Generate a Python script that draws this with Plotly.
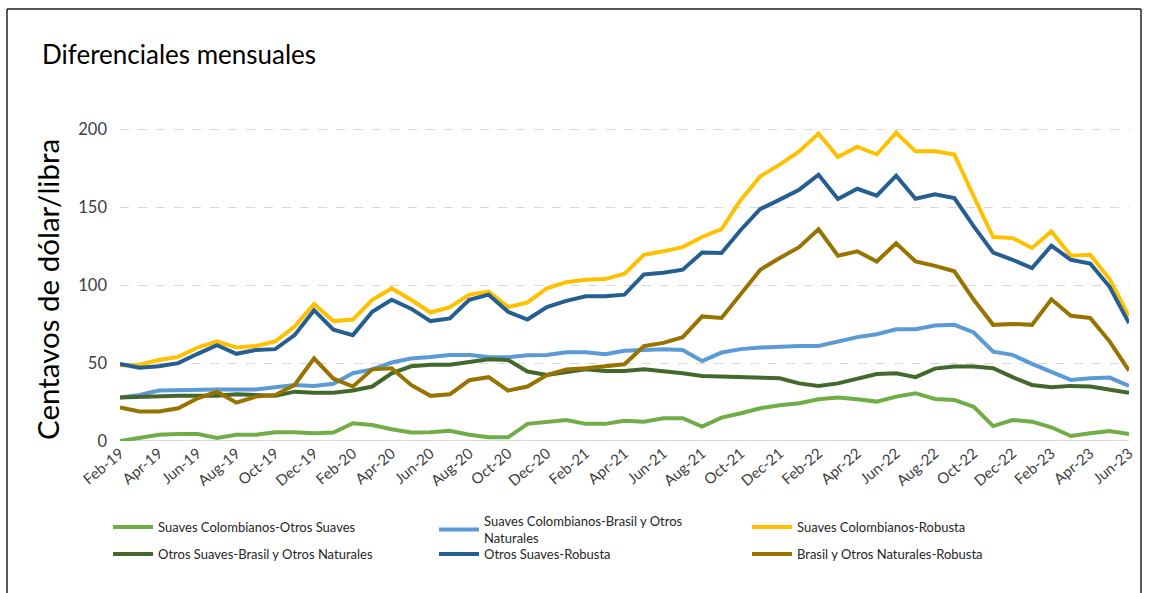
import plotly.graph_objects as go

months = ["Feb-19","Mar-19","Apr-19","May-19","Jun-19","Jul-19","Aug-19","Sep-19","Oct-19","Nov-19",
          "Dec-19","Jan-20","Feb-20","Mar-20","Apr-20","May-20","Jun-20","Jul-20","Aug-20","Sep-20",
          "Oct-20","Nov-20","Dec-20","Jan-21","Feb-21","Mar-21","Apr-21","May-21","Jun-21","Jul-21",
          "Aug-21","Sep-21","Oct-21","Nov-21","Dec-21","Jan-22","Feb-22","Mar-22","Apr-22","May-22",
          "Jun-22","Jul-22","Aug-22","Sep-22","Oct-22","Nov-22","Dec-22","Jan-23","Feb-23","Mar-23",
          "Apr-23","May-23","Jun-23"]

sc_os = [0, 1.7, 4, 4.5, 4.5, 2, 4, 4, 5.6, 5.6,
         5, 5.4, 11.4, 10.3, 7.5, 5.4, 5.6, 6.6, 4, 2.4,
         2.4, 11, 12.4, 13.5, 11, 11, 13, 12.4, 14.6, 14.6,
         9.2, 15, 17.8, 21, 23, 24.2, 26.8, 27.9, 26.8, 25.3,
         28.5, 30.7, 27, 26.4, 22, 9.6, 13.5, 12.4, 8.8, 3.2,
         5, 6.4, 4.5]
sc_br = [28, 29.6, 32.4, 32.8, 32.8, 33, 33, 33, 34.5, 36,
         35.4, 36.7, 43.5, 46, 50.4, 53, 54, 55.3, 55.3, 54,
         53.8, 55, 55.3, 57, 57, 55.7, 58, 58.5, 59, 58.5,
         51.4, 56.8, 59, 60, 60.7, 61, 61, 64, 66.7, 68.6,
         71.8, 71.8, 74.2, 74.6, 69.7, 57.4, 55.3, 49.5, 44.6, 39.2,
         40.3, 40.7, 35.4]
sc_rb = [48.5, 49, 52, 54, 60, 64, 60, 61, 64, 73.5,
         88, 77, 78, 90.7, 98, 90.7, 82.5, 86, 94, 96,
         86, 89, 98, 102, 103.5, 104, 107.4, 119.6, 121.8, 124.5,
         131, 136, 155, 170, 177.5, 186, 197.4, 182.4, 189, 184,
         198, 186, 186, 184, 157, 131, 130.3, 124, 134.6, 119,
         119.6, 104, 80]
os_br = [28, 28.5, 29, 29, 29, 29, 30, 29.6, 29, 31.7,
         31, 31, 32.4, 35, 43.5, 48, 49, 49, 51, 52.5,
         52, 44.6, 42.4, 44, 46, 45, 45, 46, 45, 43.5,
         41.8, 41.4, 41.4, 41, 40.3, 37, 35.4, 37, 39.7, 43,
         43.5, 41, 46.5, 47.8, 47.8, 46.7, 41, 36, 34.5, 35.4,
         35, 33.2, 31]
os_rb = [49.5, 47, 48, 50, 56, 61.5, 56, 58.5, 59, 68,
         84, 71.5, 68, 83, 90.7, 85, 77, 78.7, 90.7, 94,
         83, 78, 86, 90, 93, 93, 94, 107, 108, 110,
         121, 120.7, 135.7, 149, 155, 161.4, 171, 155.4, 162, 157.6,
         170.4, 155.6, 158.5, 156, 137.8, 121, 116.4, 111, 125.4, 116.4,
         114, 99, 75.7]
br_rb = [21.6, 19, 19, 21, 27.4, 31.7, 24.6, 28.5, 29.6, 36,
         53, 40, 35, 46, 46.7, 36, 29, 30, 39, 41,
         32.4, 35, 42.4, 46, 46.7, 47.8, 49.3, 61, 63, 66.7,
         80, 79, 95, 110, 117.5, 124.5, 136, 119, 121.8, 115.3,
         127, 115.3, 112.5, 109, 90.7, 74.6, 75.2, 74.6, 91, 80.4,
         79, 64, 45.2]

series_names = ["Suaves Colombianos-Otros Suaves",
                "Suaves Colombianos-Brasil y Otros<br>Naturales",
                "Suaves Colombianos-Robusta",
                "Otros Suaves-Brasil y Otros Naturales",
                "Otros Suaves-Robusta",
                "Brasil y Otros Naturales-Robusta"]
series_values = [sc_os, sc_br, sc_rb, os_br, os_rb, br_rb]
series_colors = ["#70ad47", "#5b9bd5", "#ffc000", "#43682b", "#255e91", "#997300"]

L, R, T, B = 120, 20, 114, 152
W, H = 1149, 593
pw = W - L - R
ph = H - T - B

def px2x(px):
    return (px - L) / pw

def py2y(py):
    return (H - B - py) / ph

# legend placement (pixel positions of each legend box: left, top)
legend_pos = [(108, 512), (434, 506), (747, 512), (108, 539), (434, 539), (747, 539)]
legend_ids = ["legend", "legend2", "legend3", "legend4", "legend5", "legend6"]

fig = go.Figure()
for name, vals, col, lg in zip(series_names, series_values, series_colors, legend_ids):
    fig.add_trace(go.Scatter(x=months, y=vals, mode="lines", name=name, legend=lg,
                             line=dict(color=col, width=4)))

legend_layout = {}
for lg, (lx, ly) in zip(legend_ids, legend_pos):
    legend_layout[lg] = dict(x=px2x(lx), y=py2y(ly), xanchor="left", yanchor="top",
                             orientation="h", font=dict(size=13, color="#262626"),
                             bgcolor="rgba(0,0,0,0)", itemwidth=40)

fig.update_layout(
    width=W, height=H,
    margin=dict(l=L, r=R, t=T, b=B),
    paper_bgcolor="white", plot_bgcolor="white",
    font=dict(family="Lato, Open Sans, sans-serif", color="#404040"),
    showlegend=True,
    **legend_layout,
    xaxis=dict(type="category", range=[0, len(months) - 1],
               tickmode="array", tickvals=months[::2], ticktext=months[::2],
               tickangle=-40, tickfont=dict(size=15, color="#404040"),
               showgrid=False, showline=False, zeroline=False, ticks=""),
    yaxis=dict(range=[0, 210], tickvals=[0, 50, 100, 150, 200],
               tickfont=dict(size=16.5, color="#404040"),
               showgrid=True, gridcolor="#d9d9d9", griddash="dash", gridwidth=1,
               zeroline=False, showline=False, ticks="", ticklabelstandoff=12),
    shapes=[
        dict(type="line", xref="paper", yref="y", x0=0, x1=1, y0=0, y1=0,
             line=dict(color="#d9d9d9", width=2), layer="below"),
        dict(type="line", xref="paper", yref="paper", x0=px2x(7), x1=px2x(7),
             y0=py2y(9), y1=py2y(600), line=dict(color="#222222", width=1.5)),
        dict(type="line", xref="paper", yref="paper", x0=px2x(7), x1=px2x(1141),
             y0=py2y(9), y1=py2y(9), line=dict(color="#222222", width=1.5)),
        dict(type="line", xref="paper", yref="paper", x0=px2x(1141), x1=px2x(1141),
             y0=py2y(9), y1=py2y(600), line=dict(color="#222222", width=1.5)),
    ],
    annotations=[
        dict(text="Diferenciales mensuales", xref="paper", yref="paper",
             x=px2x(40), y=py2y(54), xanchor="left", yanchor="middle",
             showarrow=False, font=dict(size=26, color="#000000")),
        dict(text="Centavos de dólar/libra", xref="paper", yref="paper",
             x=px2x(47), y=py2y(290), xanchor="center", yanchor="middle",
             textangle=-90, showarrow=False, font=dict(size=29.5, color="#000000")),
    ],
)

fig.write_html("out.html")
